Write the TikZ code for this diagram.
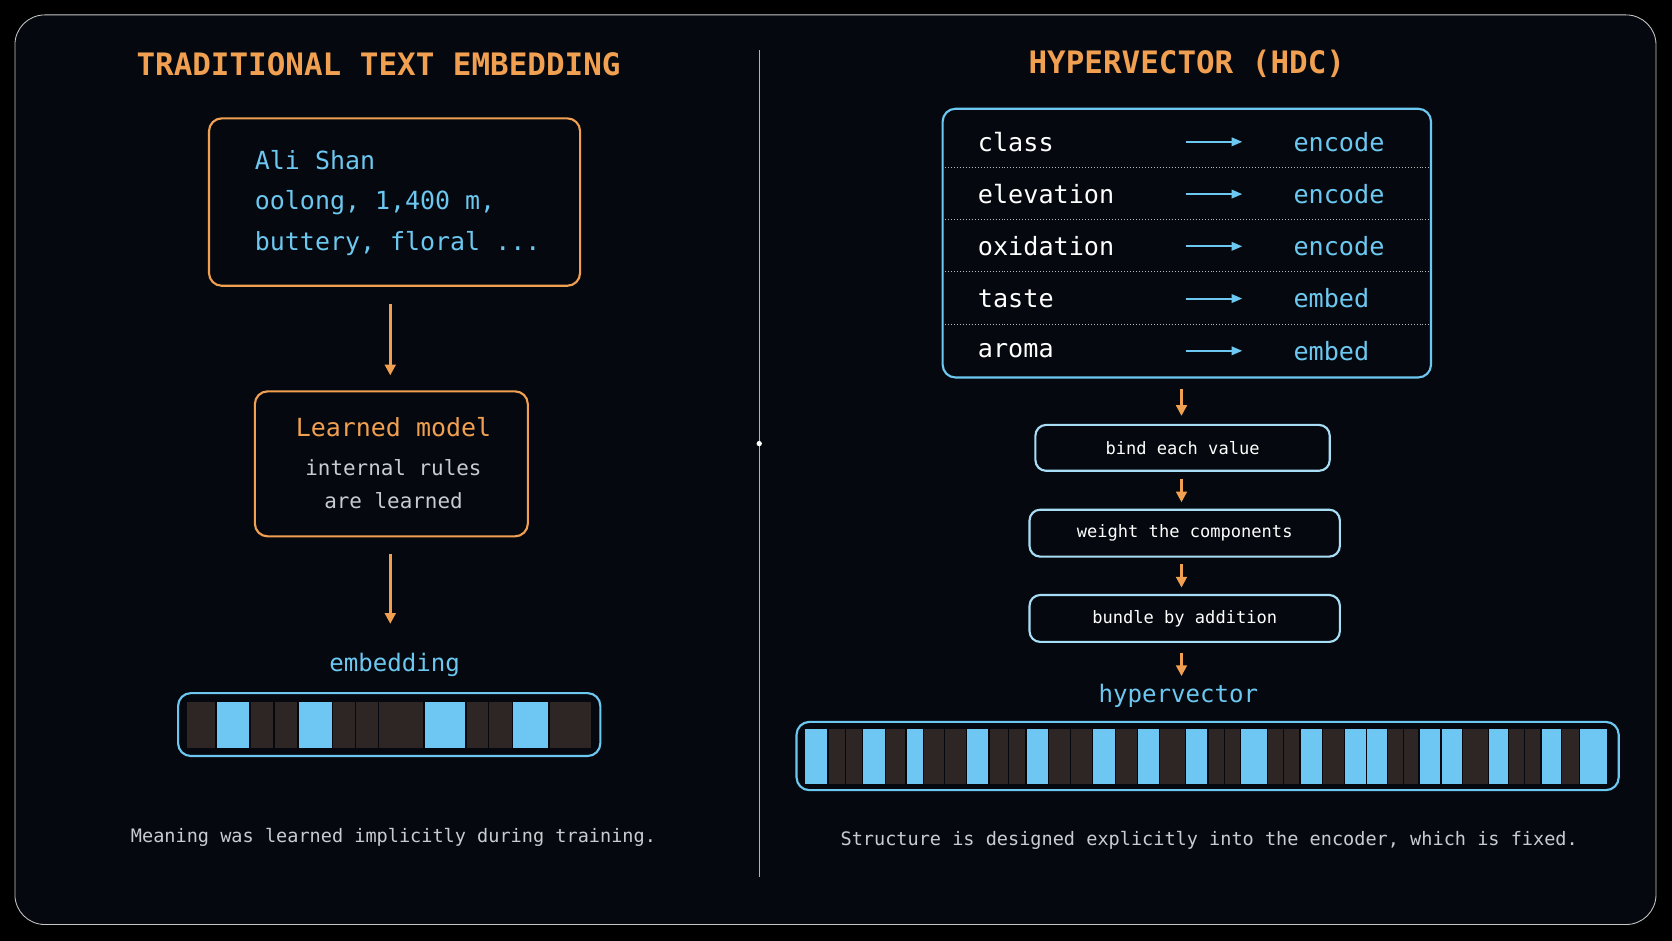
\documentclass[tikz,border=0pt]{standalone}
\usepackage{fontspec}
\setmonofont{DejaVu Sans Mono}
\usetikzlibrary{arrows.meta,positioning}
\definecolor{bgdark}{HTML}{05090F}
\definecolor{accentorange}{HTML}{F0A050}
\definecolor{accentcyan}{HTML}{6CC8F0}
\definecolor{cellblue}{HTML}{6EC6F2}
\definecolor{celldark}{HTML}{2E2624}
\definecolor{softgray}{HTML}{C8CCD0}
\tikzset{
    panel/.style={rectangle, rounded corners=6pt, line width=1pt, fill=bgdark},
    stage/.style={rectangle, rounded corners=5pt, draw=accentcyan!60!white, line width=1pt,
        fill=bgdark, text=white, font=\ttfamily\fontsize{8}{10}\selectfont},
    flow/.style={-{Triangle[length=5pt,width=5pt]}, accentorange, line width=1.2pt},
    rowarrow/.style={-{Triangle[length=5pt,width=4pt]}, accentcyan, line width=0.9pt},
    title/.style={font=\ttfamily\bfseries\fontsize{14.5}{16}\selectfont, text=accentorange},
    caption/.style={font=\ttfamily\fontsize{8.7}{10}\selectfont, text=softgray}
}
\begin{document}
\begin{tikzpicture}[x=0.5pt, y=-0.5pt]
    \useasboundingbox (0,0) rectangle (1568,882);
    \fill[black] (0,0) rectangle (1568,882);
    \draw[gray!45, rounded corners=14pt, fill=bgdark] (14,14) rectangle (1553,867);

    % divider
    \draw[gray!60, line width=0.6pt] (712,47) -- (712,822);
    \fill[white] (712,416) circle (2.5);

    % left panel
    \node[title] (ltitle) at (355,60) {TRADITIONAL TEXT EMBEDDING};
    \draw[panel, draw=accentorange] (196,111) rectangle (544,268);
    \node[anchor=west, align=left, text=accentcyan, font=\ttfamily\fontsize{11.7}{19}\selectfont] (sample) at (232,190)
        {Ali Shan\\oolong, 1,400 m,\\buttery, floral ...};
    \coordinate (s1) at (366,285);
    \coordinate (s2) at (366,352);
    \draw[flow] (s1) -- (s2);
    \draw[panel, draw=accentorange] (239,367) rectangle (495,503);
    \node[text=accentorange, font=\ttfamily\fontsize{11.7}{14}\selectfont] (model) at (369,401) {Learned model};
    \node[text=softgray, align=center, font=\ttfamily\fontsize{9.8}{15.5}\selectfont] (rules) at (369,454) {internal rules\\are learned};
    \coordinate (m1) at (366,520);
    \coordinate (m2) at (366,585);
    \draw[flow] (m1) -- (m2);
    \node[text=accentcyan, font=\ttfamily\fontsize{11.3}{14}\selectfont] (emb) at (370,624) {embedding};
    \draw[panel, draw=accentcyan] (167,650) rectangle (563,709);
    \begin{scope}[shift={(150,0)}, xscale=0.3125]
        \foreach \a/\b/\c in {80/165/celldark,170/268/cellblue,272/340/celldark,345/410/celldark,
            417/515/cellblue,520/585/celldark,588/655/celldark,658/790/celldark,795/915/cellblue,
            920/985/celldark,988/1055/celldark,1060/1165/cellblue,1170/1295/celldark}
            \fill[\c] (\a,658) rectangle (\b,701);
    \end{scope}
    \node[caption] (lcap) at (369,785) {Meaning was learned implicitly during training.};

    % right panel
    \node[title] (rtitle) at (1113,60) {HYPERVECTOR (HDC)};
    \draw[panel, draw=accentcyan] (884,102) rectangle (1342,354);
    \foreach \y in {157,206,255,304}
        \draw[gray!55, densely dotted] (886,\y) -- (1340,\y);
    \foreach \name/\kind [count=\i] in {class/encode,elevation/encode,oxidation/encode,taste/embed,aroma/embed} {
        \node[anchor=west, text=white, font=\ttfamily\fontsize{11.8}{14}\selectfont] (f\i) at (910,84+49*\i) {\name};
        \node[anchor=west, text=accentcyan, font=\ttfamily\fontsize{11.8}{14}\selectfont] (k\i) at (1206,84+49*\i) {\kind};
        \coordinate (a\i) at (1112,84+49*\i);
        \coordinate (b\i) at (1165,84+49*\i);
        \draw[rowarrow] (a\i) -- (b\i);
    }
    \node[stage, minimum width=138pt, minimum height=21.5pt] (bind) at (1109,420) {bind each value};
    \node[stage, minimum width=145.5pt, minimum height=22pt] (weight) at (1111,500) {weight the components};
    \node[stage, minimum width=145.5pt, minimum height=22pt] (bundle) at (1111,580) {bundle by addition};
    \coordinate (t1) at (1108,365);
    \coordinate (t2) at (1108,390);
    \draw[flow] (t1) -- (t2);
    \draw[flow] (1108,449) -- (1108,471);
    \draw[flow] (1108,529) -- (1108,551);
    \coordinate (h1) at (1108,612);
    \coordinate (h2) at (1108,634);
    \draw[flow] (h1) -- (h2);
    \node[text=accentcyan, font=\ttfamily\fontsize{11.3}{14}\selectfont] (hv) at (1105,653) {hypervector};
    \draw[panel, draw=accentcyan] (747,677) rectangle (1518,741);
    \begin{scope}[shift={(694,0)}, xscale=0.5577]
        \foreach \a/\b/\c in {110/147/cellblue,150/177/celldark,178/205/celldark,207/243/cellblue,
            246/278/celldark,281/307/cellblue,310/343/celldark,345/380/celldark,382/417/cellblue,
            420/450/celldark,452/480/celldark,482/518/cellblue,520/555/celldark,557/592/celldark,
            594/630/cellblue,632/667/celldark,669/704/cellblue,706/748/celldark,750/786/cellblue,
            788/813/celldark,815/840/celldark,842/886/cellblue,888/913/celldark,915/940/celldark,
            943/978/cellblue,980/1015/celldark,1017/1052/cellblue,1055/1088/cellblue,1090/1115/celldark,
            1117/1140/celldark,1143/1177/cellblue,1180/1214/cellblue,1216/1257/celldark,1259/1291/cellblue,
            1293/1318/celldark,1320/1346/celldark,1348/1380/cellblue,1382/1410/celldark,1412/1458/cellblue}
            \fill[\c] (\a,684) rectangle (\b,735);
    \end{scope}
    \node[caption] (rcap) at (1134,788) {Structure is designed explicitly into the encoder, which is fixed.};
\end{tikzpicture}
\end{document}
